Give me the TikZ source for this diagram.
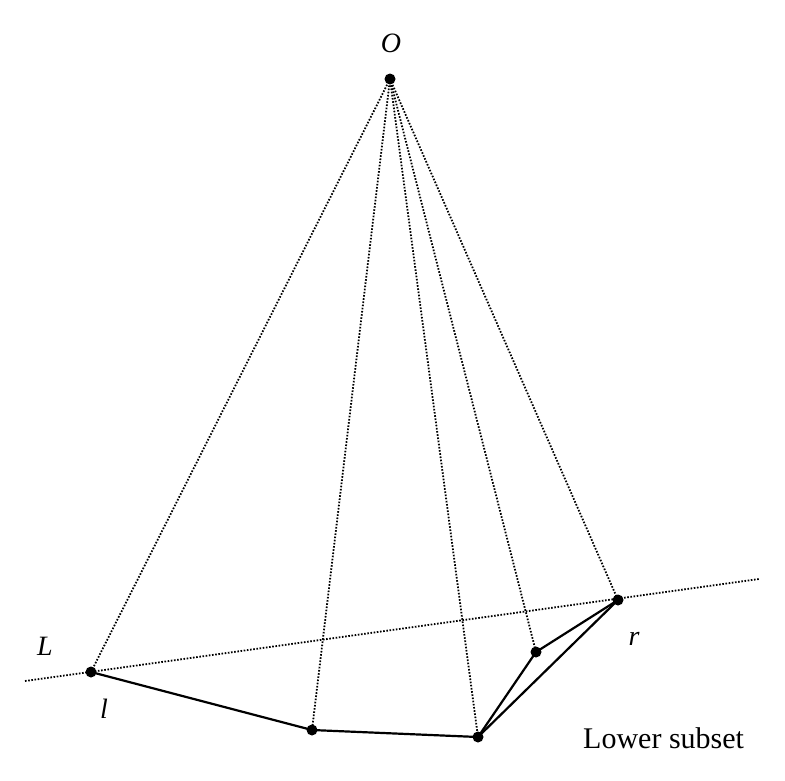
\documentclass[tikz,border=0pt]{standalone}
\usepackage{fontspec}
\setmainfont{Liberation Serif}
\begin{document}
\begin{tikzpicture}[x=1pt,y=-1pt,
  pt/.style={circle,fill=black,inner sep=0pt,minimum size=11pt},
  dotline/.style={line width=1.8pt,dash pattern=on 1.6pt off 1.6pt},
  solidline/.style={line width=2.2pt},
  lab/.style={anchor=base,inner sep=0pt,font=\fontsize{28}{32}\selectfont\itshape}]
\useasboundingbox (0,0) rectangle (785,780);
\node[pt] (O) at (390,79) {};
\node[pt] (l) at (91,672) {};
\node[pt] (a) at (312,730) {};
\node[pt] (b) at (478,737) {};
\node[pt] (c) at (536,652) {};
\node[pt] (r) at (618,600) {};
\coordinate (L1) at (25,681);
\coordinate (L2) at (759,579);
\draw[dotline] (L1) -- (L2);
\foreach \p in {l,a,b,c,r} \draw[dotline] (O.center) -- (\p.center);
\draw[solidline] (l.center) -- (a.center) -- (b.center) -- (c.center) -- (r.center);
\draw[solidline] (b.center) -- (r.center);
\node[lab] (tO) at (391,52) {O};
\node[lab] (tL) at (45,655) {L};
\node[lab] (tl) at (104,718) {l};
\node[lab] (tr) at (634,645) {r};
\node[anchor=base west,inner sep=0pt,font=\fontsize{30}{34}\selectfont] (ts) at (583,748) {Lower subset};
\end{tikzpicture}
\end{document}
